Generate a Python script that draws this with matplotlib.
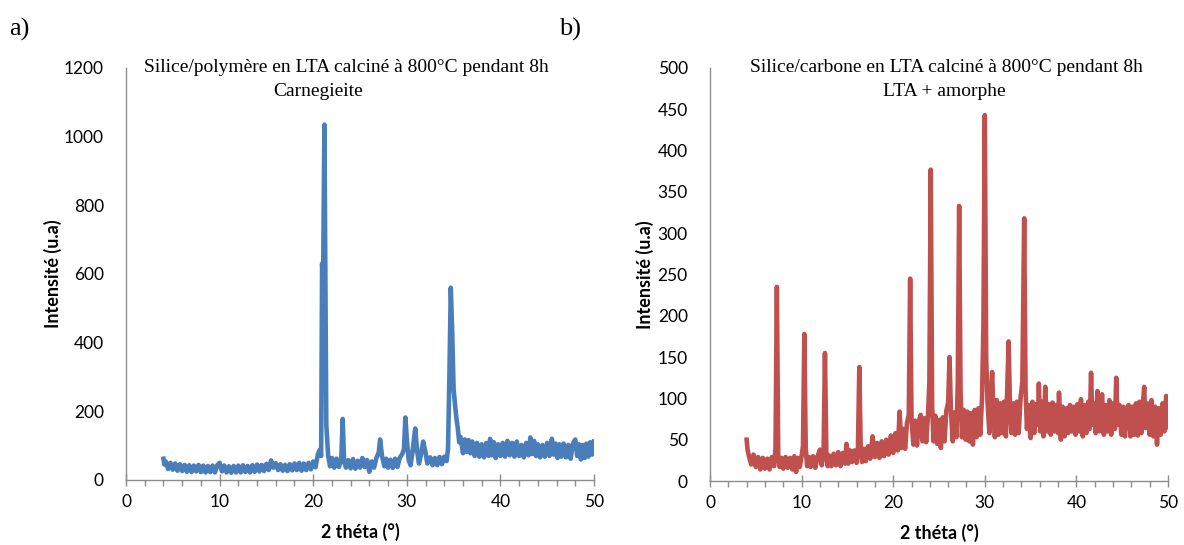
import numpy as np
import matplotlib
matplotlib.use('Agg')
from matplotlib import pyplot as plt
from matplotlib.ticker import MultipleLocator

# a) silice/polymere -> carnegieite  (2 theta, intensite)
theta_a = [4.0, 4.1, 4.25, 4.5, 4.75, 5.0, 5.25, 5.5, 5.75, 6.0,
           6.25, 6.5, 6.75, 7.0, 7.25, 7.5, 7.75, 8.0, 8.25, 8.5,
           8.75, 9.0, 9.25, 9.5, 9.75, 10.0, 10.25, 10.5, 10.75, 11.0,
           11.25, 11.5, 11.75, 12.0, 12.25, 12.5, 12.75, 13.0, 13.25, 13.5,
           13.75, 14.0, 14.25, 14.5, 14.75, 15.0, 15.25, 15.5, 15.75, 16.0,
           16.25, 16.5, 16.75, 17.0, 17.25, 17.5, 17.75, 18.0, 18.25, 18.5,
           18.75, 19.0, 19.25, 19.5, 19.75, 20.0, 20.25, 20.5, 20.7, 20.85,
           20.95, 21.05, 21.2, 21.3, 21.4, 21.6, 21.8, 22.0, 22.25, 22.5,
           22.75, 23.0, 23.15, 23.3, 23.5, 23.75, 24.0, 24.25, 24.5, 24.75,
           25.0, 25.25, 25.5, 25.75, 26.0, 26.25, 26.5, 26.75, 27.0, 27.15,
           27.35, 27.6, 27.8, 28.0, 28.25, 28.5, 28.75, 29.0, 29.25, 29.5,
           29.7, 29.85, 30.0, 30.2, 30.4, 30.6, 30.9, 31.1, 31.3, 31.5,
           31.75, 32.0, 32.2, 32.5, 32.75, 33.0, 33.25, 33.5, 33.75, 34.0,
           34.25, 34.4, 34.55, 34.7, 34.85, 35.0, 35.15, 35.3, 35.45, 35.6,
           35.75, 36.0, 36.2, 36.4, 36.6, 36.8, 37.0, 37.25, 37.5, 37.75,
           38.0, 38.25, 38.5, 38.75, 38.9, 39.1, 39.3, 39.5, 39.75, 40.0,
           40.25, 40.5, 40.75, 41.0, 41.25, 41.5, 41.75, 42.0, 42.25, 42.5,
           42.75, 43.0, 43.2, 43.4, 43.6, 43.8, 44.0, 44.25, 44.5, 44.75,
           45.0, 45.25, 45.5, 45.7, 45.9, 46.1, 46.3, 46.5, 46.75, 47.0,
           47.25, 47.5, 47.75, 48.0, 48.2, 48.4, 48.6, 48.8, 49.0, 49.2,
           49.4, 49.6, 49.8, 50.0]
inten_a = [62, 45, 54, 32, 50, 30, 48, 27, 46, 26,
           44, 24, 43, 23, 42, 25, 44, 23, 42, 22,
           41, 23, 42, 22, 43, 50, 25, 42, 22, 40,
           21, 41, 22, 42, 22, 43, 23, 41, 22, 43,
           24, 45, 25, 44, 26, 47, 29, 57, 36, 49,
           29, 46, 27, 44, 26, 46, 28, 48, 29, 50,
           27, 48, 29, 50, 31, 54, 37, 75, 88, 70,
           630, 560, 1035, 600, 160, 70, 40, 64, 36, 62,
           38, 62, 178, 55, 36, 58, 34, 61, 33, 56,
           36, 64, 38, 58, 24, 54, 36, 64, 80, 118,
           70, 40, 62, 36, 59, 35, 62, 38, 65, 75,
           90, 182, 120, 58, 43, 80, 150, 85, 48, 72,
           112, 80, 48, 66, 43, 64, 43, 67, 46, 68,
           55, 90, 300, 560, 430, 265, 220, 180, 150, 110,
           125, 78, 118, 82, 116, 78, 112, 70, 108, 68,
           104, 66, 108, 70, 120, 72, 110, 64, 104, 70,
           108, 68, 114, 72, 108, 68, 112, 70, 102, 66,
           108, 72, 124, 76, 114, 70, 104, 66, 102, 68,
           108, 70, 120, 74, 106, 64, 104, 68, 106, 66,
           102, 62, 106, 118, 70, 104, 60, 102, 64, 106,
           68, 110, 74, 112]

# b) silice/carbone -> LTA + amorphe
theta_b = [4.0, 4.1, 4.25, 4.5, 4.75, 5.0, 5.25, 5.5, 5.75, 6.0,
           6.25, 6.5, 6.75, 7.0, 7.15, 7.3, 7.45, 7.6, 7.8, 8.0,
           8.25, 8.5, 8.75, 9.0, 9.2, 9.4, 9.6, 9.8, 10.0, 10.15,
           10.3, 10.45, 10.6, 10.8, 11.0, 11.25, 11.5, 11.75, 12.0, 12.2,
           12.4, 12.55, 12.7, 12.85, 13.0, 13.25, 13.5, 13.75, 14.0, 14.25,
           14.5, 14.75, 14.9, 15.1, 15.3, 15.5, 15.75, 16.0, 16.15, 16.3,
           16.45, 16.6, 16.8, 17.0, 17.25, 17.5, 17.75, 18.0, 18.25, 18.5,
           18.75, 19.0, 19.25, 19.5, 19.75, 20.0, 20.25, 20.5, 20.7, 20.9,
           21.1, 21.3, 21.5, 21.7, 21.85, 22.0, 22.2, 22.4, 22.6, 22.8,
           23.0, 23.2, 23.4, 23.6, 23.8, 23.95, 24.1, 24.25, 24.4, 24.6,
           24.8, 25.0, 25.2, 25.4, 25.6, 25.8, 26.0, 26.15, 26.3, 26.5,
           26.7, 26.9, 27.05, 27.2, 27.35, 27.5, 27.7, 27.9, 28.1, 28.3,
           28.5, 28.7, 28.9, 29.1, 29.3, 29.5, 29.7, 29.85, 30.0, 30.15,
           30.3, 30.5, 30.65, 30.8, 30.95, 31.1, 31.3, 31.5, 31.7, 31.9,
           32.1, 32.3, 32.45, 32.6, 32.75, 32.9, 33.1, 33.3, 33.5, 33.7,
           33.9, 34.1, 34.3, 34.45, 34.6, 34.8, 35.0, 35.2, 35.4, 35.6,
           35.8, 35.9, 36.05, 36.2, 36.4, 36.6, 36.8, 37.0, 37.2, 37.4,
           37.6, 37.8, 38.0, 38.1, 38.3, 38.5, 38.7, 38.9, 39.1, 39.3,
           39.5, 39.7, 39.9, 40.1, 40.3, 40.5, 40.7, 40.9, 41.1, 41.3,
           41.45, 41.6, 41.75, 41.95, 42.1, 42.3, 42.5, 42.8, 43.0, 43.2,
           43.4, 43.6, 43.8, 44.0, 44.2, 44.35, 44.5, 44.7, 44.9, 45.1,
           45.3, 45.5, 45.7, 45.9, 46.1, 46.3, 46.5, 46.7, 46.9, 47.1,
           47.25, 47.4, 47.55, 47.75, 48.0, 48.2, 48.4, 48.6, 48.8, 49.0,
           49.2, 49.4, 49.6, 49.8, 50.0]
inten_b = [50, 38, 30, 20, 32, 17, 29, 14, 28, 15,
           27, 14, 29, 18, 40, 235, 30, 17, 28, 15,
           29, 16, 28, 14, 30, 11, 28, 17, 30, 42,
           178, 40, 18, 29, 17, 30, 16, 30, 38, 19,
           33, 155, 35, 18, 31, 18, 33, 19, 35, 18,
           34, 21, 45, 21, 37, 23, 37, 22, 40, 138,
           40, 23, 39, 24, 42, 27, 54, 29, 46, 28,
           48, 30, 50, 32, 55, 34, 58, 37, 84, 40,
           63, 39, 70, 80, 245, 75, 44, 73, 43, 72,
           80, 48, 76, 47, 80, 120, 377, 90, 48, 79,
           45, 74, 40, 77, 48, 85, 95, 150, 85, 48,
           83, 53, 120, 333, 110, 53, 86, 50, 84, 48,
           82, 44, 86, 53, 88, 56, 100, 190, 443, 150,
           95, 58, 100, 132, 80, 53, 98, 56, 94, 58,
           96, 54, 110, 169, 90, 58, 94, 56, 96, 58,
           100, 120, 318, 110, 63, 92, 52, 96, 58, 93,
           68, 118, 60, 96, 54, 114, 60, 93, 56, 95,
           60, 92, 58, 107, 50, 90, 54, 88, 58, 92,
           60, 90, 56, 93, 60, 99, 54, 92, 58, 96,
           63, 131, 68, 94, 58, 109, 60, 105, 56, 92,
           60, 98, 56, 94, 63, 125, 68, 92, 56, 90,
           54, 88, 92, 54, 90, 56, 94, 55, 96, 58,
           92, 114, 64, 94, 56, 98, 54, 90, 44, 88,
           56, 94, 60, 103, 65]

titles_a = ['Silice/polymère en LTA calciné à 800°C pendant 8h', 'Carnegieite']
titles_b = ['Silice/carbone en LTA calciné à 800°C pendant 8h', 'LTA + amorphe']

W, H = 1184, 545
fig = plt.figure(figsize=(W / 100, H / 100), dpi=100)

grey = '#8c8c8c'
sans = ['Lato', 'DejaVu Sans']
serif = ['Liberation Serif', 'DejaVu Serif']


def setup(ax, ymax, ystep):
    ax.set_xlim(0, 50)
    ax.set_ylim(0, ymax)
    ax.xaxis.set_major_locator(MultipleLocator(10))
    ax.xaxis.set_minor_locator(MultipleLocator(2))
    ax.yaxis.set_major_locator(MultipleLocator(ystep))
    for s in ['top', 'right']:
        ax.spines[s].set_visible(False)
    for s in ['left', 'bottom']:
        ax.spines[s].set_color(grey)
        ax.spines[s].set_linewidth(1.0)
    ax.tick_params(axis='x', which='major', direction='inout', length=8,
                   color=grey, width=1.0, pad=6, labelsize=12.5)
    ax.tick_params(axis='x', which='minor', direction='out', length=4,
                   color=grey, width=1.0)
    ax.tick_params(axis='y', length=0, pad=16, labelsize=12.5)
    for lab in ax.get_xticklabels() + ax.get_yticklabels():
        lab.set_family(sans)
    ax.set_xlabel('2 théta (°)', family=sans, fontweight='bold', fontsize=13)
    ax.set_ylabel('Intensité (u.a)', family=sans, fontweight='bold', fontsize=13)
    ax.xaxis.set_label_coords(0.5, -0.105)


ax1 = fig.add_axes([126 / W, 1 - 480 / H, 468 / W, 412 / H])
ax1.plot(theta_a, inten_a, color='#4A7EBB', lw=3.3, solid_joinstyle='round')
setup(ax1, 1200, 200)
ax1.yaxis.set_label_coords(-0.137, 0.5)

ax2 = fig.add_axes([710 / W, 1 - 481 / H, 458 / W, 413 / H])
ax2.plot(theta_b, inten_b, color='#C0504D', lw=3.3, solid_joinstyle='round')
setup(ax2, 500, 50)
ax2.yaxis.set_label_coords(-0.122, 0.5)

# titres (deux lignes)
fig.text(346 / W, 1 - 68 / H, titles_a[0], family=serif, fontsize=14, ha='center', va='center')
fig.text(318 / W, 1 - 91 / H, titles_a[1], family=serif, fontsize=14, ha='center', va='center')
fig.text(946 / W, 1 - 68 / H, titles_b[0], family=serif, fontsize=14, ha='center', va='center')
fig.text(944 / W, 1 - 91 / H, titles_b[1], family=serif, fontsize=14, ha='center', va='center')

fig.text(19 / W, 1 - 29 / H, 'a)', family=serif, fontsize=19, ha='center', va='center')
fig.text(570 / W, 1 - 29 / H, 'b)', family=serif, fontsize=19, ha='center', va='center')

fig.savefig('out.png', dpi=100)
